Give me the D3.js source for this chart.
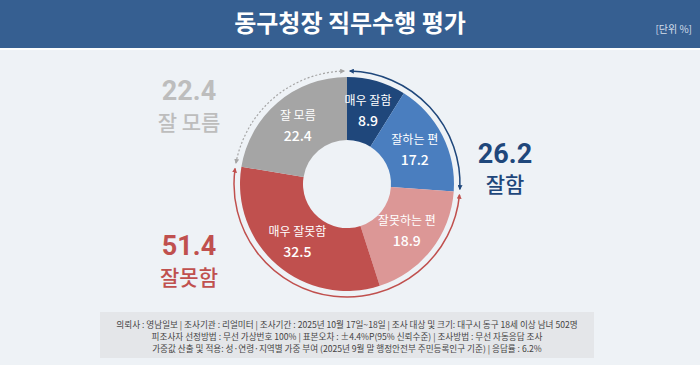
<!DOCTYPE html>
<html><head><meta charset="utf-8">
<script src="https://cdn.jsdelivr.net/npm/d3@7"></script>
<style>
html,body{margin:0;padding:0;background:#eef2f6;}
svg{display:block;font-family:"Noto Sans CJK KR","Noto Sans",sans-serif;}
</style></head>
<body>
<svg id="chart" width="700" height="365"></svg>
<script>
const title = "동구청장 직무수행 평가";
const unitLabel = "[단위 %]";
const categories = ["매우 잘함", "잘하는 편", "잘못하는 편", "매우 잘못함", "잘 모름"];
const values = [8.9, 17.2, 18.9, 32.5, 22.4];
const groupLabels = ["잘함", "잘못함", "잘 모름"];
const groupValues = [26.2, 51.4, 22.4];
const groupMembers = [[0, 1], [2, 3], [4]];
const footerLines = [
  "의뢰사 : 영남일보  | 조사기관 : 리얼미터  |  조사기간 : 2025년 10월 17일~18일 | 조사 대상 및 크기: 대구시 동구 18세 이상 남녀 502명",
  "피조사자  선정방법 : 무선 가상번호  100% | 표본오차 : ±4.4%P(95%  신뢰수준)  | 조사방법 : 무선 자동응답  조사",
  "가중값 산출 및 적용: 성·연령·지역별  가중 부여 (2025년 9월 말 행정안전부  주민등록인구  기준) | 응답률 : 6.2%"
];

const sliceColors = ["#1f477b", "#4a7ebf", "#dc9796", "#c0504e", "#a5a5a5"];
const groupColors = ["#1f477b", "#c0504e", "#a5a5a5"];

const svg = d3.select("#chart");
const W = 700, H = 365;

// background
svg.append("rect").attr("width", W).attr("height", H).attr("fill", "#eef2f6");
// header
svg.append("rect").attr("x", 0).attr("y", 0).attr("width", W).attr("height", 48).attr("fill", "#365f91");
svg.append("rect").attr("x", 0).attr("y", 48).attr("width", W).attr("height", 2).attr("fill", "#ffffff").attr("opacity", 0.8);
svg.append("text").attr("x", 350).attr("y", 32).attr("text-anchor", "middle")
  .attr("fill", "#ffffff").attr("font-size", 24).attr("font-weight", 700).text(title);
svg.append("text").attr("x", 692).attr("y", 33).attr("text-anchor", "end")
  .attr("fill", "#d5deea").attr("font-size", 10).text(unitLabel);

// donut
const cx = 347, cy = 184, R = 107, r = 44, rArrow = 113;
const g = svg.append("g").attr("transform", `translate(${cx},${cy})`);
const pie = d3.pie().sort(null).value(d => d).startAngle(0).endAngle(2 * Math.PI);
const arcs = pie(values);
const arcGen = d3.arc().innerRadius(r).outerRadius(R);
g.selectAll("path.slice").data(arcs).join("path").attr("class", "slice")
  .attr("d", arcGen).attr("fill", (d, i) => sliceColors[i]);

const labelArc = d3.arc().innerRadius(76).outerRadius(76);
const lab = g.selectAll("g.lab").data(arcs).join("g").attr("class", "lab")
  .attr("transform", d => { const c = labelArc.centroid(d); return `translate(${c[0]},${c[1]})`; });
lab.append("text").attr("text-anchor", "middle").attr("y", -6).attr("fill", "#fff")
  .attr("font-size", 12).text((d, i) => categories[i]);
lab.append("text").attr("text-anchor", "middle").attr("y", 15).attr("fill", "#fff")
  .attr("font-size", 14).attr("font-weight", 500).text((d, i) => values[i].toFixed(1));

// arrow markers
const defs = svg.append("defs");
groupColors.forEach((c, i) => {
  defs.append("marker").attr("id", "m" + i).attr("viewBox", "0 0 10 10")
    .attr("refX", 8).attr("refY", 5).attr("markerWidth", 5).attr("markerHeight", 5)
    .attr("markerUnits", "userSpaceOnUse")
    .attr("orient", "auto-start-reverse")
    .append("path").attr("d", "M0,0 L10,5 L0,10 Z").attr("fill", c);
});

function arcPath(a0, a1, rad) {
  const x0 = rad * Math.sin(a0), y0 = -rad * Math.cos(a0);
  const x1 = rad * Math.sin(a1), y1 = -rad * Math.cos(a1);
  const large = (a1 - a0) > Math.PI ? 1 : 0;
  return `M${x0},${y0} A${rad},${rad} 0 ${large} 1 ${x1},${y1}`;
}
const gap = 0.025;
groupMembers.forEach((m, gi) => {
  const a0 = arcs[m[0]].startAngle + gap;
  const a1 = arcs[m[m.length - 1]].endAngle - gap;
  g.append("path").attr("d", arcPath(a0, a1, rArrow)).attr("fill", "none")
    .attr("stroke", groupColors[gi]).attr("stroke-width", gi === 2 ? 1.2 : 1.5)
    .attr("stroke-dasharray", gi === 2 ? "2,2" : null)
    .attr("marker-start", `url(#m${gi})`).attr("marker-end", `url(#m${gi})`);
});

// summary labels
const summaryPos = [[505, 163, 192], [189, 255, 285], [189, 100, 130]];
groupLabels.forEach((lbl, i) => {
  const p = summaryPos[i];
  const col = i === 2 ? "#bdbdbd" : groupColors[i];
  svg.append("text").attr("x", p[0]).attr("y", p[1]).attr("text-anchor", "middle")
    .attr("fill", col).attr("font-size", 27).attr("font-weight", 700)
    .attr("font-family", "Roboto, 'Noto Sans', sans-serif").text(groupValues[i].toFixed(1));
  svg.append("text").attr("x", p[0]).attr("y", p[2]).attr("text-anchor", "middle")
    .attr("fill", col).attr("font-size", 21).attr("font-weight", 500).text(lbl);
});

// footer
svg.append("rect").attr("x", 100).attr("y", 312).attr("width", 494).attr("height", 46).attr("fill", "#e4e6e9");
footerLines.forEach((t, i) => {
  svg.append("text").attr("x", 347).attr("y", 328 + i * 12).attr("text-anchor", "middle")
    .attr("fill", "#444").attr("font-size", 8.6).text(t);
});
</script>
</body></html>
